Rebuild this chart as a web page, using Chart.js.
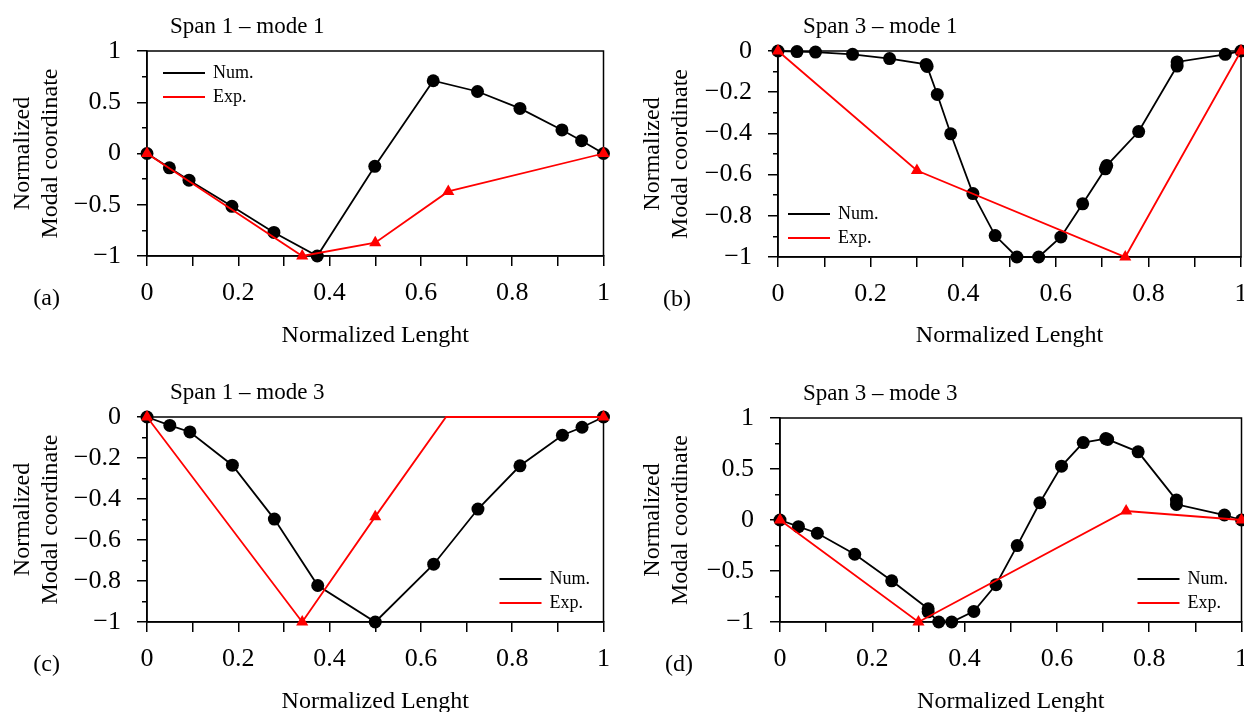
<!DOCTYPE html>
<html>
<head>
<meta charset="utf-8">
<script src="https://cdn.jsdelivr.net/npm/chart.js@4.4.1/dist/chart.umd.min.js"></script>
<style>
  html, body { margin: 0; padding: 0; width: 1244px; height: 712px; overflow: hidden; background: #fff; }
  canvas { position: absolute; }
</style>
</head>
<body>
<canvas id="pa" width="622" height="360" style="left:0;top:0"></canvas>
<canvas id="pb" width="640" height="360" style="left:620px;top:0"></canvas>
<canvas id="pc" width="622" height="372" style="left:0;top:360px"></canvas>
<canvas id="pd" width="640" height="372" style="left:620px;top:360px"></canvas>
<script>
// tick label values
const xMajor = [0, 0.2, 0.4, 0.6, 0.8, 1];
const yMajorFull = [-1, -0.5, 0, 0.5, 1];
const yMajorNeg = [-1, -0.8, -0.6, -0.4, -0.2, 0];

// Span 1 - mode 1
const s1m1NumX = [0, 0.049, 0.092, 0.186, 0.278, 0.373, 0.499, 0.627, 0.724, 0.817, 0.909, 0.952, 1];
const s1m1NumY = [0, -0.14, -0.26, -0.515, -0.77, -1.0, -0.125, 0.71, 0.605, 0.44, 0.23, 0.125, 0];
const s1m1ExpX = [0, 0.34, 0.5, 0.66, 1];
const s1m1ExpY = [0, -1.0, -0.87, -0.37, 0];

// Span 3 - mode 1
const s3m1NumX = [0, 0.041, 0.081, 0.161, 0.241, 0.320, 0.322, 0.344, 0.373, 0.421, 0.469, 0.516, 0.563, 0.611, 0.658, 0.707, 0.710, 0.779, 0.862, 0.862, 0.966, 1];
const s3m1NumY = [0, -0.003, -0.005, -0.016, -0.037, -0.065, -0.075, -0.211, -0.402, -0.692, -0.896, -1.0, -1.0, -0.903, -0.742, -0.572, -0.556, -0.391, -0.073, -0.053, -0.016, 0];
const s3m1ExpX = [0, 0.30, 0.75, 1];
const s3m1ExpY = [0, -0.58, -1.0, 0];

// Span 1 - mode 3
const s1m3NumX = [0, 0.050, 0.094, 0.187, 0.279, 0.374, 0.5, 0.628, 0.725, 0.817, 0.910, 0.953, 1];
const s1m3NumY = [0, -0.041, -0.073, -0.235, -0.498, -0.822, -1.0, -0.718, -0.449, -0.238, -0.089, -0.050, 0];
const s1m3ExpX = [0, 0.34, 0.5, 0.655, 1];
const s1m3ExpY = [0, -1.0, -0.486, 0, 0];

// Span 3 - mode 3
const s3m3NumX = [0, 0.040, 0.081, 0.162, 0.242, 0.321, 0.321, 0.344, 0.372, 0.420, 0.468, 0.514, 0.563, 0.610, 0.657, 0.706, 0.710, 0.776, 0.859, 0.859, 0.963, 1];
const s3m3NumY = [0, -0.065, -0.130, -0.336, -0.596, -0.87, -0.90, -1.0, -1.0, -0.896, -0.635, -0.251, 0.169, 0.528, 0.759, 0.798, 0.79, 0.668, 0.195, 0.153, 0.049, 0];
const s3m3ExpX = [0, 0.30, 0.75, 1];
const s3m3ExpY = [0, -1.0, 0.088, 0];

const SERIF = '"Liberation Serif", "Times New Roman", serif';
const near = (list, v) => list.some(m => Math.abs(m - v) < 1e-6);
const fmt = v => (v < 0 ? '\u2212' : '') + String(Math.round(Math.abs(v) * 100) / 100);
const pts = (xs, ys) => xs.map((x, i) => ({ x: x, y: ys[i] }));

// frame, panel title, (a) tag and legend
const panelDeco = {
  id: 'panelDeco',
  beforeDatasetsDraw(chart, args, o) {
    const a = chart.chartArea, ctx = chart.ctx;
    ctx.save();
    ctx.strokeStyle = '#000';
    ctx.lineWidth = 1.5;
    ctx.strokeRect(a.left, a.top, a.right - a.left, a.bottom - a.top);
    ctx.restore();
  },
  afterDraw(chart, args, o) {
    const a = chart.chartArea, ctx = chart.ctx;
    ctx.save();
    ctx.fillStyle = '#000';
    ctx.font = '23px ' + SERIF;
    ctx.textBaseline = 'alphabetic';
    ctx.fillText(o.title, a.left + o.titleDx, a.top - 18);

    ctx.font = '24px ' + SERIF;
    ctx.textAlign = 'right';
    ctx.textBaseline = 'middle';
    ctx.fillText(o.tag, a.left - 87, a.bottom + 43);

    const lx = o.legendRight ? a.right - 104 : a.left + o.legendDx;
    const ly = o.legendTop ? a.top + 22 : a.bottom - 43;
    ctx.font = '18px ' + SERIF;
    ctx.textAlign = 'left';
    chart.data.datasets.forEach((ds, i) => {
      const y = ly + i * 24;
      ctx.strokeStyle = ds.borderColor;
      ctx.lineWidth = 2;
      ctx.beginPath();
      ctx.moveTo(lx, y);
      ctx.lineTo(lx + 42, y);
      ctx.stroke();
      ctx.fillText(ds.label, lx + 50, y);
    });
    ctx.restore();
  }
};

function panel(id, p) {
  const isMajor = v => near(p.yMajor, v);
  const hidden = p.expHidden || [];
  new Chart(document.getElementById(id), {
    type: 'line',
    data: {
      datasets: [
        { label: 'Num.', data: pts(p.numX, p.numY), borderColor: '#000', backgroundColor: '#000',
          borderWidth: 1.8, pointRadius: 6.5, pointBorderWidth: 0, pointStyle: 'circle', order: 1, clip: false },
        { label: 'Exp.', data: pts(p.expX, p.expY), borderColor: '#ff0000', backgroundColor: '#ff0000',
          borderWidth: 1.8, pointStyle: 'triangle', pointBorderWidth: 0,
          pointRadius: c => hidden.includes(c.dataIndex) ? 0 : 7, order: 0, clip: false }
      ]
    },
    options: {
      responsive: false,
      animation: false,
      devicePixelRatio: 1,
      layout: { padding: { top: p.top, right: p.right, left: 0, bottom: 0 } },
      plugins: {
        legend: { display: false },
        tooltip: { enabled: false },
        panelDeco: { title: p.title, titleDx: p.titleDx, tag: p.tag,
          legendTop: p.legendTop, legendRight: p.legendRight, legendDx: p.legendDx }
      },
      scales: {
        x: {
          type: 'linear', min: 0, max: 1,
          afterFit: s => { s.height = p.xH; },
          border: { color: '#000', width: 1.5 },
          grid: { drawOnChartArea: false, color: '#000', lineWidth: 1.5, tickLength: 10 },
          ticks: { stepSize: 0.1, autoSkip: false, maxRotation: 0, padding: 12, color: '#000',
            font: { family: SERIF, size: 26 },
            callback: v => near(xMajor, v) ? fmt(v) : '' },
          title: { display: true, text: 'Normalized Lenght', color: '#000',
            font: { family: SERIF, size: 24 }, padding: { top: 0, bottom: p.xTitlePad } }
        },
        y: {
          type: 'linear', min: p.yMin, max: p.yMax,
          afterFit: s => { s.width = p.yW; },
          border: { color: '#000', width: 1.5 },
          grid: { drawOnChartArea: false, color: '#000', lineWidth: 1.5, tickLength: 10,
            tickBorderDash: c => (c.tick && !isMajor(c.tick.value)) ? [5, 5] : [],
            tickBorderDashOffset: c => (c.tick && !isMajor(c.tick.value)) ? 5 : 0 },
          ticks: { stepSize: p.yStep, autoSkip: false, padding: 16, color: '#000',
            font: { family: SERIF, size: 26 },
            callback: v => isMajor(v) ? fmt(v) : '' },
          title: { display: true, text: ['Normalized', 'Modal coordinate'], color: '#000',
            font: { family: SERIF, size: 24 }, padding: { top: p.yTitlePad, bottom: 0 } }
        }
      }
    },
    plugins: [panelDeco]
  });
}

panel('pa', { numX: s1m1NumX, numY: s1m1NumY, expX: s1m1ExpX, expY: s1m1ExpY,
  yMin: -1, yMax: 1, yStep: 0.25, yMajor: yMajorFull,
  top: 51, right: 10, yW: 147, xH: 104, xTitlePad: 10, yTitlePad: 8,
  title: 'Span 1 \u2013 mode 1', titleDx: 23, tag: '(a)', legendTop: true, legendRight: false, legendDx: 16 });

panel('pb', { numX: s3m1NumX, numY: s3m1NumY, expX: s3m1ExpX, expY: s3m1ExpY,
  yMin: -1, yMax: 0, yStep: 0.1, yMajor: yMajorNeg,
  top: 51, right: 19, yW: 158, xH: 103, xTitlePad: 10, yTitlePad: 18,
  title: 'Span 3 \u2013 mode 1', titleDx: 25, tag: '(b)', legendTop: false, legendRight: false, legendDx: 10 });

panel('pc', { numX: s1m3NumX, numY: s1m3NumY, expX: s1m3ExpX, expY: s1m3ExpY, expHidden: [3],
  yMin: -1, yMax: 0, yStep: 0.1, yMajor: yMajorNeg,
  top: 57, right: 10, yW: 147, xH: 110, xTitlePad: 16, yTitlePad: 8,
  title: 'Span 1 \u2013 mode 3', titleDx: 23, tag: '(c)', legendTop: false, legendRight: true });

panel('pd', { numX: s3m3NumX, numY: s3m3NumY, expX: s3m3ExpX, expY: s3m3ExpY,
  yMin: -1, yMax: 1, yStep: 0.25, yMajor: yMajorFull,
  top: 58, right: 18, yW: 160, xH: 110, xTitlePad: 16, yTitlePad: 18,
  title: 'Span 3 \u2013 mode 3', titleDx: 23, tag: '(d)', legendTop: false, legendRight: true });
</script>
</body>
</html>
